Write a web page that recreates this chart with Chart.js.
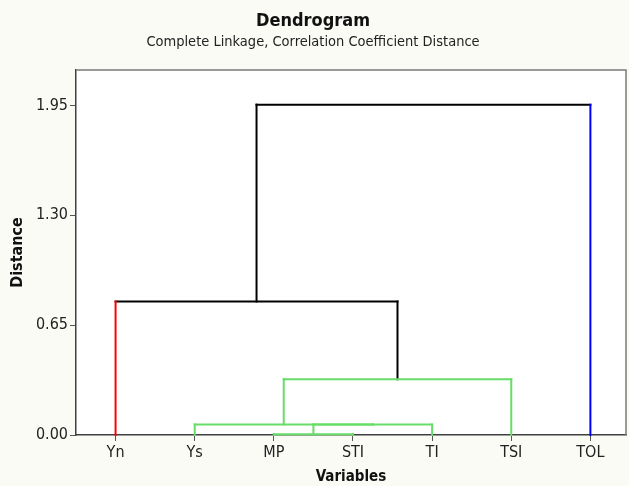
<!DOCTYPE html>
<html>
<head>
<meta charset="utf-8">
<script src="https://cdn.jsdelivr.net/npm/chart.js@4.4.0/dist/chart.umd.min.js"></script>
<style>
  html, body { margin: 0; padding: 0; background: #fbfbf6; }
</style>
</head>
<body>
<canvas id="chart" width="629" height="486"></canvas>
<script>
// leaves of the tree, left to right
const variables = ['Yn', 'Ys', 'MP', 'STI', 'TI', 'TSI', 'TOL'];
const leafGroup = [0, 1, 1, 1, 1, 1, 2];
// merge i makes cluster (7 + i) from mergeA[i] and mergeB[i] at mergeHeight[i]
const mergeA = [2, 7, 1, 9, 0, 11];
const mergeB = [3, 4, 8, 5, 10, 6];
const mergeHeight = [0.005, 0.062, 0.062, 0.330, 0.790, 1.955];
const distanceTicks = [0, 0.65, 1.30, 1.95];

const groupColors = ['#ff0000', '#66dd66', '#0000ff'];
const linkColor = '#000000';
const FONT = "'DejaVu Sans Condensed', 'DejaVu Sans', sans-serif";

// node positions: leaves at their index, merges at the middle of their children
const n = variables.length;
const nodeX = variables.map((v, i) => i);
const nodeY = variables.map(() => 0);
const nodeGroup = leafGroup.slice();
mergeA.forEach((a, i) => {
  const b = mergeB[i];
  nodeX.push((nodeX[a] + nodeX[b]) / 2);
  nodeY.push(mergeHeight[i]);
  nodeGroup.push(nodeGroup[a] === nodeGroup[b] ? nodeGroup[a] : -1);
});
const colorOf = g => (g < 0 ? linkColor : groupColors[g]);

const segments = [];
mergeA.forEach((a, i) => {
  const b = mergeB[i];
  const p = n + i;
  const pc = colorOf(nodeGroup[p]);
  [a, b].forEach(c => {
    segments.push({
      pts: [{ x: nodeX[c], y: nodeY[c] }, { x: nodeX[c], y: nodeY[p] }],
      color: c < n ? colorOf(leafGroup[c]) : pc
    });
  });
  segments.push({
    pts: [{ x: nodeX[a], y: nodeY[p] }, { x: nodeX[b], y: nodeY[p] }],
    color: pc
  });
});

const frame = {
  id: 'frame',
  beforeDraw(chart) {
    const { ctx, chartArea: a } = chart;
    ctx.save();
    ctx.fillStyle = '#fbfbf6';
    ctx.fillRect(0, 0, chart.width, chart.height);
    ctx.fillStyle = '#ffffff';
    ctx.fillRect(a.left, a.top, a.right - a.left, a.bottom - a.top);
    ctx.restore();
  },
  beforeDatasetsDraw(chart) {
    const { ctx, chartArea: a } = chart;
    ctx.save();
    ctx.strokeStyle = '#7a7a7a';
    ctx.lineWidth = 1.5;
    ctx.beginPath();
    ctx.moveTo(a.left, a.top);
    ctx.lineTo(a.right, a.top);
    ctx.lineTo(a.right, a.bottom);
    ctx.stroke();
    ctx.restore();
  }
};

new Chart(document.getElementById('chart'), {
  type: 'scatter',
  data: {
    datasets: segments.map(s => ({
      data: s.pts,
      borderColor: s.color,
      borderWidth: 2,
      borderCapStyle: 'square',
      showLine: true,
      fill: false,
      pointRadius: 0,
      pointHoverRadius: 0,
      clip: false
    }))
  },
  options: {
    responsive: false,
    animation: false,
    layout: { padding: { left: 0, right: 3, top: 0, bottom: 0 } },
    plugins: {
      legend: { display: false },
      tooltip: { enabled: false },
      title: {
        display: true,
        text: 'Dendrogram',
        color: '#111',
        font: { family: FONT, size: 18, weight: 'bold' },
        padding: { top: 11, bottom: 1 }
      },
      subtitle: {
        display: true,
        text: 'Complete Linkage, Correlation Coefficient Distance',
        color: '#222',
        font: { family: FONT, size: 14.5 },
        padding: { top: 0, bottom: 19 }
      }
    },
    scales: {
      x: {
        type: 'linear',
        min: -0.5,
        max: 6.45,
        afterBuildTicks: s => { s.ticks = variables.map((v, i) => ({ value: i })); },
        afterFit: s => { s.height = 51; },
        ticks: {
          autoSkip: false,
          maxRotation: 0,
          padding: 2,
          color: '#222',
          font: { family: FONT, size: 16 },
          callback: (v, i) => variables[i]
        },
        grid: { drawOnChartArea: false, drawTicks: true, tickLength: 6, color: '#555' },
        border: { display: true, color: '#404040', width: 1.5 },
        title: {
          display: true,
          text: 'Variables',
          color: '#111',
          font: { family: FONT, size: 15, weight: 'bold' },
          padding: { top: 0, bottom: 0 }
        }
      },
      y: {
        type: 'linear',
        min: 0,
        max: 2.16,
        afterBuildTicks: s => { s.ticks = distanceTicks.map(v => ({ value: v })); },
        afterFit: s => { s.width = 76; },
        ticks: {
          padding: 2,
          color: '#222',
          font: { family: FONT, size: 16 },
          callback: v => v.toFixed(2)
        },
        grid: { drawOnChartArea: false, drawTicks: true, tickLength: 6, color: '#555' },
        border: { display: true, color: '#404040', width: 1.5 },
        title: {
          display: true,
          text: 'Distance',
          color: '#111',
          font: { family: FONT, size: 16, weight: 'bold' },
          padding: { top: 8, bottom: 0 }
        }
      }
    }
  },
  plugins: [frame]
});
</script>
</body>
</html>
